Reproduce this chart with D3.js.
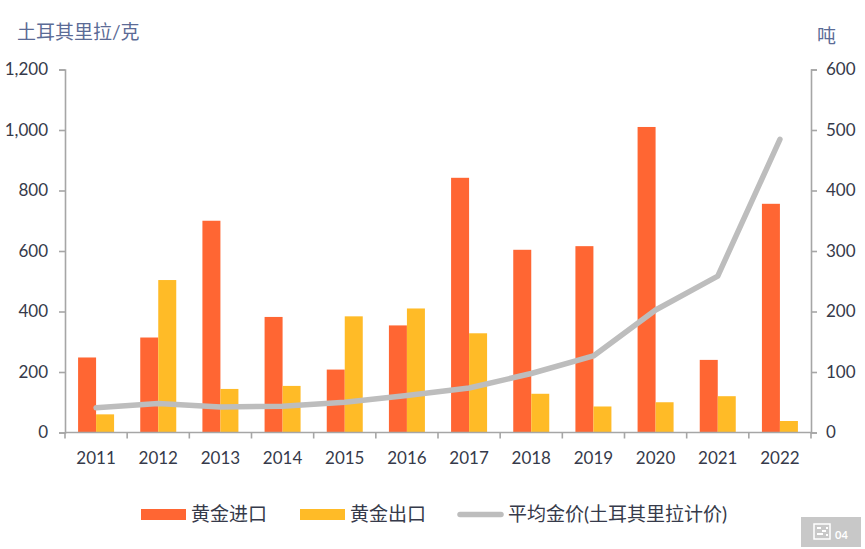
<!DOCTYPE html>
<html><head><meta charset="utf-8">
<script src="https://cdn.jsdelivr.net/npm/d3@7/dist/d3.min.js"></script>
<style>html,body{margin:0;padding:0;background:#fff}svg{display:block}
text{font-family:Lato,"Noto Sans CJK SC",sans-serif}</style></head>
<body><svg id="c" width="865" height="549"></svg>
<script>
const years=["2011","2012","2013","2014","2015","2016","2017","2018","2019","2020","2021","2022"];
const goldImports=[124,157,350,191,104,177,421,302,308,505,120,378];
const goldExports=[30,252,72,77,192,205,164,64,43,50,60,19];
const avgPrice=[82,96,84,87,100,122,147,195,253,405,517,969];
const leftTicks=[0,200,400,600,800,1000,1200];
const rightTicks=[0,100,200,300,400,500,600];
const seriesNames=["黄金进口","黄金出口","平均金价(土耳其里拉计价)"];
const colors=["#FF6633","#FFBB27","#BDBDBD"];
const axisColor="#A6A6A6",textColor="#363a4a",titleColor="#5b6b96";

const svg=d3.select("#c");
const m={l:65,r:811,t:69.5,b:432.5};
const x=d3.scaleBand().domain(years).range([m.l,m.r]);
const yL=d3.scaleLinear().domain([0,1200]).range([m.b,m.t]);
const yR=d3.scaleLinear().domain([0,600]).range([m.b,m.t]);
const barW=18;

function bars(data,offset,color){
  svg.append("g").selectAll("rect").data(data).join("rect")
    .attr("x",(d,i)=>x(years[i])+x.bandwidth()/2+offset)
    .attr("width",barW).attr("y",d=>yR(d)).attr("height",d=>m.b-yR(d)).attr("fill",color);
}
bars(goldImports,-barW,colors[0]);
bars(goldExports,0,colors[1]);

function style(g){
  g.selectAll("path.domain,line").attr("stroke",axisColor).attr("stroke-width",1.6);
  g.selectAll("text").attr("fill",textColor);
}
const gl=svg.append("g").attr("transform",`translate(${m.l},0)`)
  .call(d3.axisLeft(yL).tickValues(leftTicks).tickFormat(d3.format(",")).tickSize(6).tickSizeOuter(6).tickPadding(8));
gl.selectAll("text").attr("font-size",17).attr("dx",-3);
style(gl);
const gr=svg.append("g").attr("transform",`translate(${m.r},0)`)
  .call(d3.axisRight(yR).tickValues(rightTicks).tickSize(6).tickSizeOuter(6).tickPadding(9));
gr.selectAll("text").attr("font-size",17);
style(gr);
const gb=svg.append("g").attr("transform",`translate(0,${m.b})`)
  .call(d3.axisBottom(x).tickSize(0).tickPadding(13));
gb.selectAll("text").attr("font-size",17).attr("dy","1.1em");
gb.selectAll("path.domain").attr("d",`M${m.l},0H${m.r}`);
gb.selectAll("line.sep").data(d3.range(13)).join("line").attr("class","sep")
  .attr("x1",i=>m.l+i*x.step()).attr("x2",i=>m.l+i*x.step()).attr("y1",0).attr("y2",6);
style(gb);

const line=d3.line().x((d,i)=>x(years[i])+x.bandwidth()/2).y(d=>yL(d)).curve(d3.curveLinear);
svg.append("path").datum(avgPrice).attr("d",line).attr("fill","none")
  .attr("stroke",colors[2]).attr("stroke-width",5.5).attr("stroke-linecap","round").attr("stroke-linejoin","round");

svg.append("text").attr("x",17).attr("y",39).attr("font-size",19).attr("fill",titleColor).text("土耳其里拉/克");
svg.append("text").attr("x",817).attr("y",43).attr("font-size",19).attr("fill",titleColor).text("吨");

// legend
const lg=svg.append("g");
[[141,186,191],[300,345,350]].forEach((p,i)=>{
  lg.append("rect").attr("x",p[0]).attr("y",509).attr("width",p[1]-p[0]).attr("height",11).attr("fill",colors[i]);
  lg.append("text").attr("x",p[2]).attr("y",521).attr("font-size",19).attr("fill",textColor).text(seriesNames[i]);
});
lg.append("line").attr("x1",460).attr("x2",501).attr("y1",514.5).attr("y2",514.5)
  .attr("stroke",colors[2]).attr("stroke-width",5.5).attr("stroke-linecap","round");
lg.append("text").attr("x",508).attr("y",521).attr("font-size",19).attr("fill",textColor).text(seriesNames[2]);

// page badge
const b=svg.append("g");
b.append("rect").attr("x",801).attr("y",517).attr("width",60).attr("height",30).attr("fill","#C8C8C8");
b.append("rect").attr("x",814).attr("y",524).attr("width",16).attr("height",15).attr("fill","none").attr("stroke","#fff").attr("stroke-width",1.5);
[[817,527,4],[822,530,4],[817,533,6],[826,527,2],[826,534,2]].forEach(r=>{
  b.append("rect").attr("x",r[0]).attr("y",r[1]).attr("width",r[2]).attr("height",2).attr("fill","#fff");
});
b.append("text").attr("x",835).attr("y",539).attr("font-size",11).attr("font-weight",700).attr("fill","#fff").text("04");
</script></body></html>
